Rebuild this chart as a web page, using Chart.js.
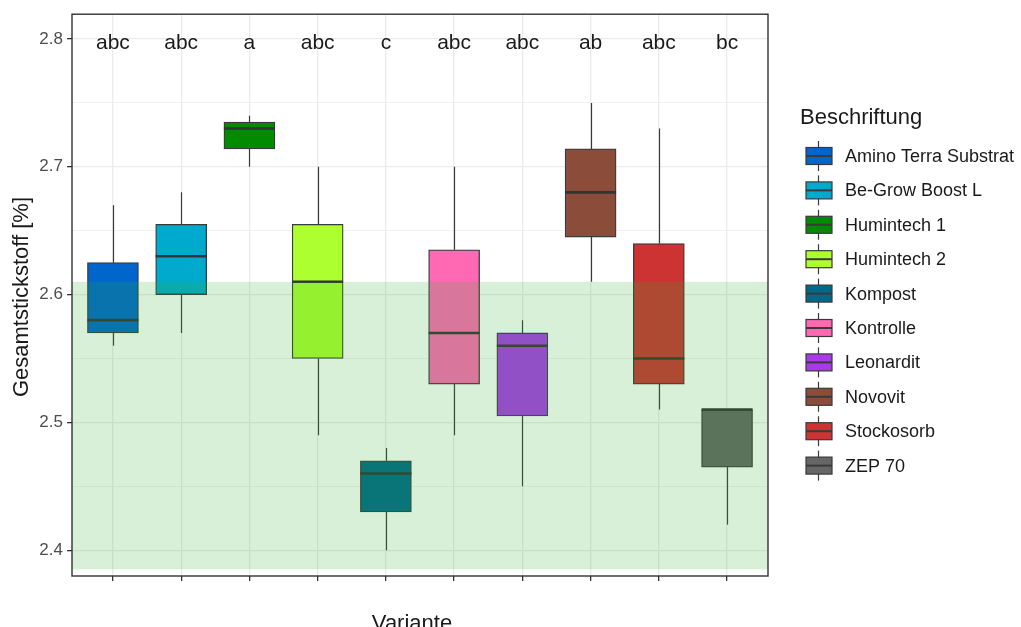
<!DOCTYPE html>
<html>
<head>
<meta charset="utf-8">
<script src="https://cdn.jsdelivr.net/npm/chart.js@4.4.0/dist/chart.umd.min.js"></script>
<style>
  body { margin: 0; background: #fff; }
</style>
</head>
<body>
<canvas id="boxChart" width="1021" height="627"></canvas>
<script>
// Daten
var varianten = ['Amino Terra Substrat', 'Be-Grow Boost L', 'Humintech 1', 'Humintech 2', 'Kompost',
                 'Kontrolle', 'Leonardit', 'Novovit', 'Stockosorb', 'ZEP 70'];
var minWerte    = [2.56, 2.57, 2.70, 2.49, 2.40, 2.49, 2.45, 2.61, 2.51, 2.42];
var q1Werte     = [2.57, 2.60, 2.714, 2.55, 2.43, 2.53, 2.505, 2.645, 2.53, 2.465];
var medianWerte = [2.58, 2.63, 2.73, 2.61, 2.46, 2.57, 2.56, 2.68, 2.55, 2.51];
var q3Werte     = [2.625, 2.655, 2.735, 2.655, 2.47, 2.635, 2.57, 2.714, 2.64, 2.51];
var maxWerte    = [2.67, 2.68, 2.74, 2.70, 2.48, 2.70, 2.58, 2.75, 2.73, 2.51];
var buchstaben  = ['abc', 'abc', 'a', 'abc', 'c', 'abc', 'abc', 'ab', 'abc', 'bc'];
var farben = ['#0066CC', '#00AACC', '#008B00', '#ADFF2F', '#00688B',
              '#FF69B4', '#A83AE8', '#8B4C39', '#CD3333', '#666666'];
var zielBereich = [2.385, 2.61];   // grün hinterlegter Bereich
var yMin = 2.3798, yMax = 2.8194;

var schrift = '"Liberation Sans", Arial, sans-serif';

var boxPlugin = {
    id: 'boxPlugin',
    // Whisker unter den Boxen
    beforeDatasetsDraw: function(chart) {
        var ctx = chart.ctx, x = chart.scales.x, y = chart.scales.y;
        ctx.save();
        ctx.strokeStyle = '#3a3a3a';
        ctx.lineWidth = 1.2;
        varianten.forEach(function(v, i) {
            var px = Math.round(x.getPixelForValue(i + 1)) + 0.5;
            ctx.beginPath();
            ctx.moveTo(px, y.getPixelForValue(maxWerte[i]));
            ctx.lineTo(px, y.getPixelForValue(q3Werte[i]));
            ctx.moveTo(px, y.getPixelForValue(q1Werte[i]));
            ctx.lineTo(px, y.getPixelForValue(minWerte[i]));
            ctx.stroke();
        });
        ctx.restore();
    },
    afterDatasetsDraw: function(chart) {
        var ctx = chart.ctx, x = chart.scales.x, y = chart.scales.y;
        var area = chart.chartArea;
        var meta = chart.getDatasetMeta(0);
        ctx.save();
        // Mediane
        ctx.strokeStyle = '#333';
        ctx.lineWidth = 2.6;
        meta.data.forEach(function(bar, i) {
            var py = y.getPixelForValue(medianWerte[i]);
            ctx.beginPath();
            ctx.moveTo(bar.x - bar.width / 2, py);
            ctx.lineTo(bar.x + bar.width / 2, py);
            ctx.stroke();
        });
        // grüner Bereich über den Boxen
        var top = y.getPixelForValue(zielBereich[1]);
        var bottom = y.getPixelForValue(zielBereich[0]);
        ctx.fillStyle = 'rgba(50, 175, 50, 0.19)';
        ctx.fillRect(area.left, top, area.right - area.left, bottom - top);
        // Buchstaben (Signifikanzgruppen)
        ctx.fillStyle = '#1a1a1a';
        ctx.font = '21px ' + schrift;
        ctx.textAlign = 'center';
        ctx.textBaseline = 'alphabetic';
        buchstaben.forEach(function(b, i) {
            ctx.fillText(b, x.getPixelForValue(i + 1), y.getPixelForValue(2.8) + 10);
        });
        // Rahmen
        ctx.strokeStyle = '#333';
        ctx.lineWidth = 1.4;
        ctx.strokeRect(area.left, area.top, area.right - area.left, area.bottom - area.top);
        ctx.restore();
    },
    afterDraw: function(chart) {
        var ctx = chart.ctx;
        ctx.save();
        // Achsentitel
        ctx.fillStyle = '#1a1a1a';
        ctx.font = '22px ' + schrift;
        ctx.textAlign = 'center';
        ctx.textBaseline = 'middle';
        ctx.save();
        ctx.translate(22, 297);
        ctx.rotate(-Math.PI / 2);
        ctx.fillText('Gesamtstickstoff [%]', 0, 0);
        ctx.restore();
        ctx.textBaseline = 'alphabetic';
        ctx.fillText('Variante', 412, 630);

        // Legende
        ctx.textAlign = 'left';
        ctx.textBaseline = 'middle';
        ctx.fillText('Beschriftung', 800, 118);
        ctx.font = '18px ' + schrift;
        varianten.forEach(function(v, i) {
            var yc = 156 + i * 34.4;
            ctx.strokeStyle = '#3a3a3a';
            ctx.lineWidth = 1.2;
            ctx.beginPath();
            ctx.moveTo(818.5, yc - 15);
            ctx.lineTo(818.5, yc + 15);
            ctx.stroke();
            ctx.fillStyle = farben[i];
            ctx.fillRect(806, yc - 8.5, 26, 17);
            ctx.strokeRect(806, yc - 8.5, 26, 17);
            ctx.lineWidth = 2;
            ctx.beginPath();
            ctx.moveTo(806, yc);
            ctx.lineTo(832, yc);
            ctx.stroke();
            ctx.fillStyle = '#1a1a1a';
            ctx.fillText(v, 845, yc + 1);
        });
        ctx.restore();
    }
};

var ctx = document.getElementById('boxChart').getContext('2d');
var boxChart = new Chart(ctx, {
    type: 'bar',
    data: {
        datasets: [{
            label: 'Gesamtstickstoff',
            data: varianten.map(function(v, i) {
                return { x: i + 1, y: [q1Werte[i], q3Werte[i]] };
            }),
            backgroundColor: farben,
            borderColor: '#3a3a3a',
            borderWidth: 1.3,
            borderSkipped: false,
            barThickness: 51
        }]
    },
    options: {
        responsive: false,
        animation: false,
        layout: { padding: { top: 10, right: 253, left: 0, bottom: 0 } },
        plugins: {
            legend: { display: false },
            tooltip: { enabled: false }
        },
        scales: {
            x: {
                type: 'linear',
                min: 0.4,
                max: 10.6,
                offset: false,
                afterFit: function(scale) { scale.height = 51; },
                border: { display: false },
                grid: {
                    offset: false,
                    color: '#ebebeb',
                    lineWidth: 1.3,
                    tickColor: '#333',
                    tickLength: 5
                },
                ticks: {
                    stepSize: 1,
                    includeBounds: false,
                    autoSkip: false,
                    callback: function() { return ''; }
                }
            },
            y: {
                min: yMin,
                max: yMax,
                afterFit: function(scale) { scale.width = 72; },
                border: { display: false },
                grid: {
                    color: '#ebebeb',
                    lineWidth: function(c) {
                        var v = c.tick ? c.tick.value : 0;
                        return Math.abs(v * 10 - Math.round(v * 10)) < 1e-6 ? 1.3 : 0.7;
                    },
                    tickColor: function(c) {
                        var v = c.tick ? c.tick.value : 0;
                        return Math.abs(v * 10 - Math.round(v * 10)) < 1e-6 ? '#333' : 'rgba(0,0,0,0)';
                    },
                    tickLength: 5
                },
                ticks: {
                    stepSize: 0.05,
                    includeBounds: false,
                    autoSkip: false,
                    color: '#4d4d4d',
                    padding: 4,
                    font: { family: schrift, size: 17 },
                    callback: function(v) {
                        return Math.abs(v * 10 - Math.round(v * 10)) < 1e-6 ? v.toFixed(1) : '';
                    }
                }
            }
        }
    },
    plugins: [boxPlugin]
});
</script>
</body>
</html>
